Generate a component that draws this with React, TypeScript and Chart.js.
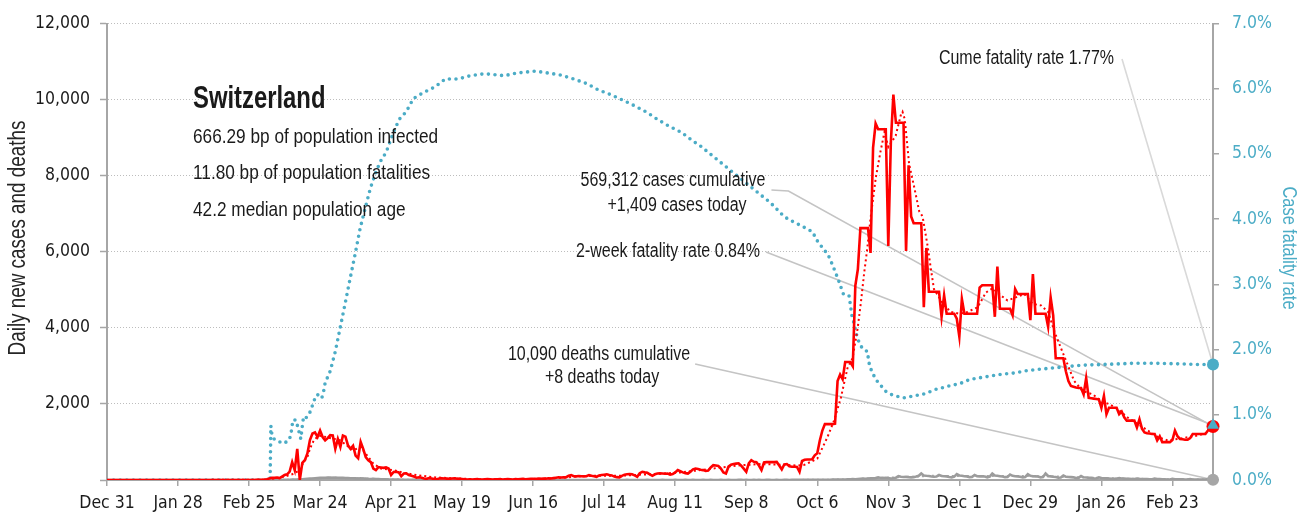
import React, { useEffect, useRef } from 'react';
import { Chart, registerables } from 'chart.js';

Chart.register(...registerables);

const TICK_FONT = "'DejaVu Sans Condensed', 'DejaVu Sans', sans-serif";
const TEXT_FONT = "'Liberation Sans', Arial, sans-serif";
const NARROW = 0.82; // horizontal compression for a narrow-gothic look

// ---- Data (day 0 = Dec 31, 2019; one value per day) ----
const xTickLabels = ['Dec 31', 'Jan 28', 'Feb 25', 'Mar 24', 'Apr 21', 'May 19', 'Jun 16', 'Jul 14', 'Aug 11', 'Sep 8', 'Oct 6', 'Nov 3', 'Dec 1', 'Dec 29', 'Jan 26', 'Feb 23'];
const tickStepDays = 28;
const leftTickLabels = ['', '2,000', '4,000', '6,000', '8,000', '10,000', '12,000'];
const leftTickStep = 2000;
const rateTickLabels = ['0.0%', '1.0%', '2.0%', '3.0%', '4.0%', '5.0%', '6.0%', '7.0%'];

const casesDaily = [
  0, 0, 0, 0, 0, 0, 0, 0, 0, 0, 0, 0, 0, 0, 0, 0, 0, 0, 0, 0,
  0, 0, 0, 0, 0, 0, 0, 0, 0, 0, 0, 0, 0, 0, 0, 0, 0, 0, 0, 0,
  0, 0, 0, 0, 0, 0, 0, 0, 0, 0, 0, 0, 0, 0, 0, 0, 0,
  1, 0, 2, 5, 8, 12, 20,
  40, 60, 55, 65, 50, 90, 130,
  150, 220, 470, 260, 820, 0, 450, 520, 700, 1050,
  1220, 1250, 1130, 1300, 1130, 1040, 1100, 1180, 1170, 820,
  1080, 870, 1170, 1140, 910, 820, 900, 640, 570, 1000,
  820, 600, 520, 470, 300, 260, 340, 330, 320, 330,
  300, 130, 210, 215, 200, 100, 170, 175, 130, 110,
  90, 60, 70, 60, 40, 30, 50, 40, 25, 20,
  40, 45, 40, 35, 30, 40, 45, 35, 30, 25,
  20, 15, 20, 15, 20, 25, 15, 10, 20, 25,
  20, 15, 20, 20, 25, 15, 20, 25, 20, 15,
  25, 20, 25, 30, 20, 25, 30, 30, 25, 35,
  30, 40, 35, 45, 40, 50, 60, 70, 65, 70,
  75, 110, 130, 100, 95, 105, 100, 95, 100, 130,
  110, 100, 85, 120, 130, 140, 150, 130, 120, 90,
  75, 70, 110, 140, 150, 155, 150, 120, 85, 180,
  215, 200, 190, 150, 110, 150, 170, 175, 170, 165,
  170, 140, 155, 200, 260, 230, 200, 180, 170, 220,
  280, 300, 290, 270, 260, 240, 250, 330, 390, 380,
  370, 300, 200, 170, 350, 400, 420, 430, 440, 380,
  300, 215, 440, 520, 480, 470, 380, 260, 460, 470,
  475, 470, 470, 475, 380, 280, 410, 420, 360, 350,
  350, 345, 215, 500, 530, 540, 540, 545, 650, 700,
  1040, 1300, 1470, 1470, 1470, 1470, 1480, 2600, 2770, 2650,
  3100, 3100, 3100, 2990, 5110, 5540, 6620, 6620, 6620, 6620,
  5970, 8740, 9370, 9220, 9220, 9220, 9220, 6150, 8870, 10130,
  9390, 9390, 9390, 9390, 6020, 8270, 6930, 6750, 6750, 6750,
  6750, 4540, 6100, 4950, 4950, 4950, 4950, 4950, 4290, 4850,
  4370, 4370, 4370, 4370, 4240, 3770, 4760, 4370, 4370, 4370,
  4370, 4370, 4370, 5060, 5120, 5120, 5120, 5120, 5120, 4290,
  5610, 4500, 4500, 4500, 4500, 4500, 4330, 5020, 4890, 4890,
  4890, 4890, 4890, 4200, 5410, 4370, 4370, 4370, 4370, 4370,
  4030, 4800, 4330, 3200, 3200, 3200, 3200, 2860, 2600, 2470,
  2450, 2430, 2420, 2420, 2250, 2680, 2160, 2150, 2140, 2130,
  2120, 1900, 2210, 1730, 1900, 1900, 1900, 1900, 1730, 1800,
  1650, 1560, 1560, 1560, 1560, 1380, 1600, 1350, 1250, 1230,
  1220, 1210, 1210, 1040, 1150, 995, 995, 995, 995, 1050,
  1300, 1150, 1080, 1070, 1060, 1060, 1100, 1210, 1210, 1210,
  1210, 1210, 1210, 1300, 1400, 1409,
];

const deathsDaily = [
  0, 0, 0, 0, 0, 0, 0, 0, 0, 0, 0, 0, 0, 0, 0, 0, 0, 0, 0, 0,
  0, 0, 0, 0, 0, 0, 0, 0, 0, 0, 0, 0, 0, 0, 0, 0, 0, 0, 0, 0,
  0, 0, 0, 0, 0, 0, 0, 0, 0, 0, 0, 0, 0, 0, 0, 0, 0, 0, 0, 0,
  0, 0, 0, 0,
  1, 0, 1, 2, 3, 2, 5,
  5, 8, 10, 12, 14, 14, 20, 25, 30, 35,
  40, 45, 50, 55, 60, 58, 62, 65, 60, 62,
  60, 55, 58, 50, 52, 48, 45, 42, 40, 45,
  38, 35, 30, 28, 32, 25, 22, 20, 18, 16,
  15, 12, 14, 10, 9, 8, 7, 8, 6, 5,
  5, 4, 4, 3, 3, 3, 2, 2, 2, 2,
  1, 2, 1, 1, 0, 1, 1, 0, 1, 0,
  1, 0, 0, 1, 0, 0, 1, 0, 0, 0,
  1, 0, 0, 0, 1, 0, 0, 1, 0, 0,
  0, 1, 0, 0, 0, 1, 0, 0, 0, 1,
  0, 0, 1, 0, 0, 0, 1, 0, 0, 0,
  1, 0, 0, 0, 1, 0, 0, 1, 0, 1,
  0, 1, 1, 0, 0, 1, 0, 1, 0, 0,
  1, 1, 0, 0, 2, 1, 0, 1, 1, 0,
  1, 1, 2, 0, 1, 1, 0, 1, 2, 1,
  0, 1, 1, 2, 1, 0, 1, 2, 1, 1,
  2, 1, 0, 1, 2, 1, 1, 2, 1, 0,
  1, 2, 1, 1, 2, 1, 0, 1, 2, 2,
  1, 2, 1, 0, 2, 1, 2, 1, 1, 2,
  2, 1, 1, 2, 1, 1, 2, 2, 1, 2,
  3, 2, 4, 3, 2, 4, 3, 5, 4, 6,
  3, 5, 7, 8, 6, 9, 12, 10, 14, 15,
  13, 18, 20, 22, 18, 28, 32, 35, 30, 40,
  45, 42, 50, 70, 55, 52, 60, 50, 40, 45,
  60, 100, 85, 80, 82, 75, 70, 72, 90, 110,
  170, 120, 110, 105, 90, 85, 90, 130, 105, 100,
  95, 80, 70, 90, 155, 120, 110, 100, 95, 75,
  80, 130, 100, 95, 100, 90, 70, 90, 170, 120,
  110, 100, 90, 75, 80, 145, 110, 100, 95, 85,
  70, 80, 155, 110, 100, 95, 90, 70, 80, 170,
  105, 95, 85, 80, 60, 65, 115, 85, 80, 75,
  70, 50, 55, 105, 70, 65, 60, 55, 40, 45,
  70, 50, 45, 42, 40, 30, 32, 35, 50, 38,
  35, 32, 30, 22, 25, 40, 30, 28, 25, 24,
  18, 20, 35, 25, 22, 20, 18, 14, 15, 30,
  20, 18, 17, 16, 12, 13, 25, 15, 14, 13,
  12, 10, 10, 20, 12, 8,
];

// 7-day average of cases
const casesAvgDays = [0, 62, 66, 70, 73, 76, 77.5, 79, 80, 81.5, 83.5, 86.7, 92, 97, 100, 102.5, 105, 108, 113, 117, 122, 129, 137, 145, 160, 172, 180, 186, 195, 202, 210, 218, 226, 234, 242, 250, 258, 266, 272, 275, 280, 284, 286.6, 289.3, 291.9, 293.9, 295.9, 297.2, 298.5, 299.5, 301.1, 303.1, 305, 306.5, 308, 310.9, 313, 313.6, 314.5, 316.2, 318.2, 320.2, 321.5, 323.5, 324.8, 326, 330, 332.7, 336, 339.3, 343.2, 346.5, 349.1, 352.4, 355, 358.3, 361.6, 364.9, 368.2, 371, 373.5, 376.1, 378.7, 381.3, 384.6, 388.6, 391.9, 395.2, 398.5, 402.4, 406.4, 410.3, 414.3, 418.2, 422.1, 426.1, 430, 434, 436];
const casesAvgValues = [0, 5, 40, 90, 150, 260, 475, 600, 820, 1040, 1170, 1125, 1040, 780, 865, 650, 430, 300, 260, 190, 130, 70, 45, 22, 20, 35, 60, 100, 115, 110, 140, 165, 200, 260, 330, 390, 420, 400, 380, 400, 560, 1125, 1560, 2160, 2940, 3200, 3980, 4670, 5450, 5970, 6930, 7960, 8660, 9150, 8750, 9050, 9610, 9680, 9480, 8310, 7700, 7060, 6930, 6150, 5540, 5020, 4590, 4420, 4370, 4420, 4540, 4930, 5040, 4850, 4720, 4800, 4890, 4630, 4590, 4420, 3900, 3460, 3030, 2600, 2340, 2250, 2080, 1990, 1860, 1640, 1470, 1300, 1125, 1040, 1080, 1125, 1170, 1250, 1340];

// 7-day average of deaths (dotted grey)
const deathsAvgDays = [0, 66, 75, 80, 88, 95, 102, 110, 120, 130, 270, 285, 295, 305, 315, 325, 340, 355, 370, 380, 390, 400, 410, 420, 430, 436];
const deathsAvgValues = [0, 0, 10, 30, 58, 52, 35, 18, 6, 2, 1.5, 8, 22, 55, 80, 110, 105, 105, 100, 80, 55, 38, 28, 20, 15, 13];

// Case fatality rate (%), dotted blue, right axis
const cfrDays = [0, 64.3, 64.6, 65, 66, 68.3, 69.6, 71.8, 72.5, 73.3, 74.5, 75.3, 76.4, 77.1, 77.5, 78.4, 79.7, 80.5, 81.4, 82.4, 83.7, 84.7, 85.4, 86, 88, 90, 92, 94, 95.9, 97.9, 99.8, 101.8, 103.8, 105.8, 107.7, 110.1, 112.9, 115.2, 118, 120.8, 124.7, 129.4, 133.4, 138.5, 143.3, 148.8, 156.7, 161.4, 168.9, 174, 178.8, 183.9, 189, 193.8, 198.5, 203.6, 208.4, 212.7, 217, 221.8, 226.5, 230.9, 234, 249.8, 261.6, 266.9, 269.5, 274.1, 278.3, 279.4, 281.1, 284.3, 286.2, 288.2, 290.3, 292.5, 292.9, 293.6, 294.5, 295.2, 295.9, 296.9, 298.2, 299.8, 300.2, 300.7, 301.8, 303.1, 304.8, 307, 309.7, 311.9, 314.2, 316.9, 319.5, 322.1, 324.8, 327.4, 330, 332.7, 335.3, 337.9, 339.9, 344.5, 352.4, 357.5, 363, 370.8, 376.1, 384, 391.9, 404.9, 412.8, 423.5, 431.3, 436];
const cfrValues = [0, 0, 0.83, 0.7, 0.62, 0.58, 0.56, 0.61, 0.7, 0.92, 0.92, 0.8, 0.63, 0.86, 0.97, 0.95, 1.01, 1.09, 1.19, 1.3, 1.31, 1.26, 1.36, 1.49, 1.67, 1.97, 2.35, 2.73, 3.1, 3.48, 3.86, 4.17, 4.47, 4.7, 4.88, 5.03, 5.33, 5.53, 5.65, 5.85, 5.94, 6.03, 6.15, 6.15, 6.2, 6.23, 6.2, 6.24, 6.27, 6.24, 6.21, 6.15, 6.08, 5.98, 5.91, 5.82, 5.73, 5.64, 5.53, 5.42, 5.33, 5.2, 5.12, 4.62, 4.25, 4.04, 3.98, 3.89, 3.8, 3.7, 3.61, 3.45, 3.28, 3.08, 2.85, 2.83, 2.73, 2.53, 2.4, 2.27, 2.17, 2.07, 2.0, 1.97, 1.84, 1.74, 1.64, 1.54, 1.46, 1.36, 1.3, 1.28, 1.26, 1.28, 1.3, 1.32, 1.36, 1.4, 1.42, 1.45, 1.47, 1.5, 1.54, 1.57, 1.62, 1.64, 1.68, 1.71, 1.73, 1.76, 1.77, 1.79, 1.79, 1.78, 1.77, 1.77];

// Summary figures
const countryName = 'Switzerland';
const infectedBp = '666.29';
const fatalitiesBp = '11.80';
const medianAge = '42.2';
const cumulativeCases = 569312;
const casesToday = 1409;
const cumulativeDeaths = 10090;
const deathsToday = 8;
const cumeFatalityRate = 1.77;
const twoWeekFatalityRate = 0.84;

const lastDay = casesDaily.length - 1;

const RED = '#ff0000';
const BLUE = '#4bacc6';
const GREY = '#a6a6a6';
const TEXT = '#1a1a1a';

const fmt = (n: number) => n.toLocaleString('en-US');

function narrowText(ctx: CanvasRenderingContext2D, text: string, x: number, y: number, rotate = 0, sx = NARROW) {
  ctx.save();
  ctx.translate(x, y);
  if (rotate) ctx.rotate(rotate);
  ctx.scale(sx, 1);
  ctx.fillText(text, 0, 0);
  ctx.restore();
}

const overlayPlugin = {
  id: 'overlay',
  beforeDatasetsDraw(chart: any) {
    const { ctx, scales } = chart;
    const xEnd = scales.x.getPixelForValue(lastDay);
    const yCfr = scales.y1.getPixelForValue(cumeFatalityRate);
    const yTwo = scales.y1.getPixelForValue(twoWeekFatalityRate);
    const yCases = scales.y.getPixelForValue(casesToday);
    const yDeaths = scales.y.getPixelForValue(deathsToday);
    ctx.save();
    ctx.font = `19.5px ${TEXT_FONT}`;
    ctx.lineWidth = 1.6;
    ctx.strokeStyle = '#d9d9d9';
    ctx.beginPath();
    ctx.moveTo(1122, 59);
    ctx.lineTo(xEnd, yCfr);
    ctx.stroke();
    ctx.strokeStyle = '#c4c4c4';
    const wCases = ctx.measureText(`${fmt(cumulativeCases)} cases cumulative`).width * NARROW;
    const xc = 673 + wCases / 2 + 6;
    ctx.beginPath();
    ctx.moveTo(xc, 190);
    ctx.lineTo(xc + 17, 191);
    ctx.lineTo(xEnd, yCases);
    ctx.stroke();
    ctx.beginPath();
    ctx.moveTo(766, 252);
    ctx.lineTo(xEnd, yTwo);
    ctx.stroke();
    const wDeaths = ctx.measureText(`${fmt(cumulativeDeaths)} deaths cumulative`).width * NARROW;
    ctx.beginPath();
    ctx.moveTo(599 + wDeaths / 2 + 5, 364);
    ctx.lineTo(xEnd, yDeaths);
    ctx.stroke();
    ctx.restore();
  },
  afterDraw(chart: any) {
    const { ctx } = chart;
    ctx.save();
    ctx.fillStyle = TEXT;
    ctx.textBaseline = 'alphabetic';
    ctx.textAlign = 'left';
    ctx.font = `bold 32px ${TEXT_FONT}`;
    narrowText(ctx, countryName, 193, 108, 0, 0.745);
    ctx.font = `21px ${TEXT_FONT}`;
    narrowText(ctx, `${infectedBp} bp of population infected`, 193, 143);
    narrowText(ctx, `${fatalitiesBp} bp of population fatalities`, 193, 179);
    narrowText(ctx, `${medianAge} median population age`, 193, 216);

    ctx.font = `19.5px ${TEXT_FONT}`;
    ctx.textBaseline = 'middle';
    ctx.textAlign = 'right';
    narrowText(ctx, `Cume fatality rate ${cumeFatalityRate.toFixed(2)}%`, 1114, 59);
    narrowText(ctx, `2-week fatality rate ${twoWeekFatalityRate.toFixed(2)}%`, 760, 252);
    ctx.textAlign = 'center';
    narrowText(ctx, `${fmt(cumulativeCases)} cases cumulative`, 673, 181);
    narrowText(ctx, `+${fmt(casesToday)} cases today`, 677, 206);
    narrowText(ctx, `${fmt(cumulativeDeaths)} deaths cumulative`, 599, 355);
    narrowText(ctx, `+${fmt(deathsToday)} deaths today`, 602, 378);

    ctx.font = `23px ${TEXT_FONT}`;
    ctx.fillStyle = '#262626';
    narrowText(ctx, 'Daily new cases and deaths', 19, 238, -Math.PI / 2);
    ctx.font = `20px ${TEXT_FONT}`;
    ctx.fillStyle = BLUE;
    narrowText(ctx, 'Case fatality rate', 1289, 248, Math.PI / 2);
    ctx.restore();
  },
};

export default function App() {
  const ref = useRef<HTMLCanvasElement>(null);
  useEffect(() => {
    const canvas = ref.current;
    if (!canvas) return;
    Chart.defaults.font.family = TICK_FONT;
    const pts = (xs: number[], ys: number[]) => xs.map((x, i) => ({ x, y: ys[i] }));
    const daily = (ys: number[]) => ys.map((y, i) => ({ x: i, y }));
    const chart = new Chart(canvas, {
      type: 'line',
      data: {
        datasets: [
          { label: 'two-week', data: [{ x: lastDay, y: twoWeekFatalityRate }], yAxisID: 'y1', showLine: false, pointStyle: 'triangle', pointRadius: 7, pointBackgroundColor: BLUE, pointBorderColor: BLUE, pointBorderWidth: 0, order: 0, clip: false } as any,
          { label: 'cases today', data: [{ x: lastDay, y: casesDaily[lastDay] }], yAxisID: 'y', showLine: false, pointRadius: 6.5, pointBackgroundColor: RED, pointBorderColor: RED, pointBorderWidth: 0, order: 1, clip: false } as any,
          { label: 'deaths today', data: [{ x: lastDay, y: deathsDaily[lastDay] }], yAxisID: 'y', showLine: false, pointRadius: 6, pointBackgroundColor: GREY, pointBorderColor: GREY, pointBorderWidth: 0, order: 1, clip: false } as any,
          { label: 'cfr now', data: [{ x: lastDay, y: cumeFatalityRate }], yAxisID: 'y1', showLine: false, pointRadius: 6, pointBackgroundColor: BLUE, pointBorderColor: BLUE, pointBorderWidth: 0, order: 1, clip: false } as any,
          { label: 'cases', data: daily(casesDaily), yAxisID: 'y', borderColor: RED, borderWidth: 2.6, pointRadius: 0, order: 2 },
          { label: 'cases avg', data: pts(casesAvgDays, casesAvgValues), yAxisID: 'y', borderColor: RED, borderWidth: 2, borderDash: [2, 3], pointRadius: 0, order: 3 },
          { label: 'deaths', data: daily(deathsDaily), yAxisID: 'y', borderColor: '#9c9c9c', borderWidth: 2.6, pointRadius: 0, order: 4 },
          { label: 'deaths avg', data: pts(deathsAvgDays, deathsAvgValues), yAxisID: 'y', borderColor: GREY, borderWidth: 2, borderDash: [2, 3], pointRadius: 0, order: 5 },
          { label: 'cfr', data: pts(cfrDays, cfrValues), yAxisID: 'y1', borderColor: BLUE, borderWidth: 3.6, borderDash: [0, 6.6], borderCapStyle: 'round', pointRadius: 0, order: 6 } as any,
        ],
      },
      options: {
        animation: false,
        responsive: false,
        devicePixelRatio: 1,
        layout: { padding: { top: 18, left: 0, right: 0, bottom: 0 } },
        plugins: { legend: { display: false }, tooltip: { enabled: false }, title: { display: false } },
        elements: { line: { tension: 0 }, point: { radius: 0 } },
        scales: {
          x: {
            type: 'linear',
            min: 0,
            max: lastDay,
            afterBuildTicks: (s: any) => { s.ticks = xTickLabels.map((_, i) => ({ value: i * tickStepDays })); },
            afterFit: (s: any) => { s.height = 39; },
            ticks: {
              callback: (v: any) => xTickLabels[Math.round(Number(v) / tickStepDays)],
              autoSkip: false, maxRotation: 0, minRotation: 0, padding: 7, color: TEXT, font: { size: 17.5 },
            },
            grid: { drawOnChartArea: false, drawTicks: true, tickLength: 6, color: GREY, lineWidth: 1.5 },
            border: { color: GREY, width: 2 },
          },
          y: {
            position: 'left',
            min: 0,
            max: 12000,
            afterBuildTicks: (s: any) => { s.ticks = leftTickLabels.map((_, i) => ({ value: i * leftTickStep })); },
            afterFit: (s: any) => { s.width = 107; },
            ticks: { callback: (_v: any, i: number) => leftTickLabels[i], padding: 10, color: TEXT, font: { size: 17.5 } },
            grid: { color: '#bdbdbd', lineWidth: 1, tickColor: GREY, tickLength: 7, tickWidth: 1.5 },
            border: { color: GREY, width: 2, dash: [1, 2] },
          },
          y1: {
            position: 'right',
            min: 0,
            max: 7,
            afterBuildTicks: (s: any) => { s.ticks = rateTickLabels.map((_, i) => ({ value: i })); },
            afterFit: (s: any) => { s.width = 84; },
            ticks: { callback: (_v: any, i: number) => rateTickLabels[i], padding: 13, color: BLUE, font: { size: 17.5 } },
            grid: { drawOnChartArea: false, drawTicks: true, tickLength: 6, color: GREY, lineWidth: 1.5 },
            border: { color: GREY, width: 2 },
          },
        },
      } as any,
      plugins: [overlayPlugin],
    });
    return () => chart.destroy();
  }, []);
  return (
    <div style={{ position: 'fixed', left: 0, top: 0, width: 1297, height: 519, background: '#fff' }}>
      <canvas ref={ref} width={1297} height={519} style={{ display: 'block', width: 1297, height: 519 }} />
    </div>
  );
}
